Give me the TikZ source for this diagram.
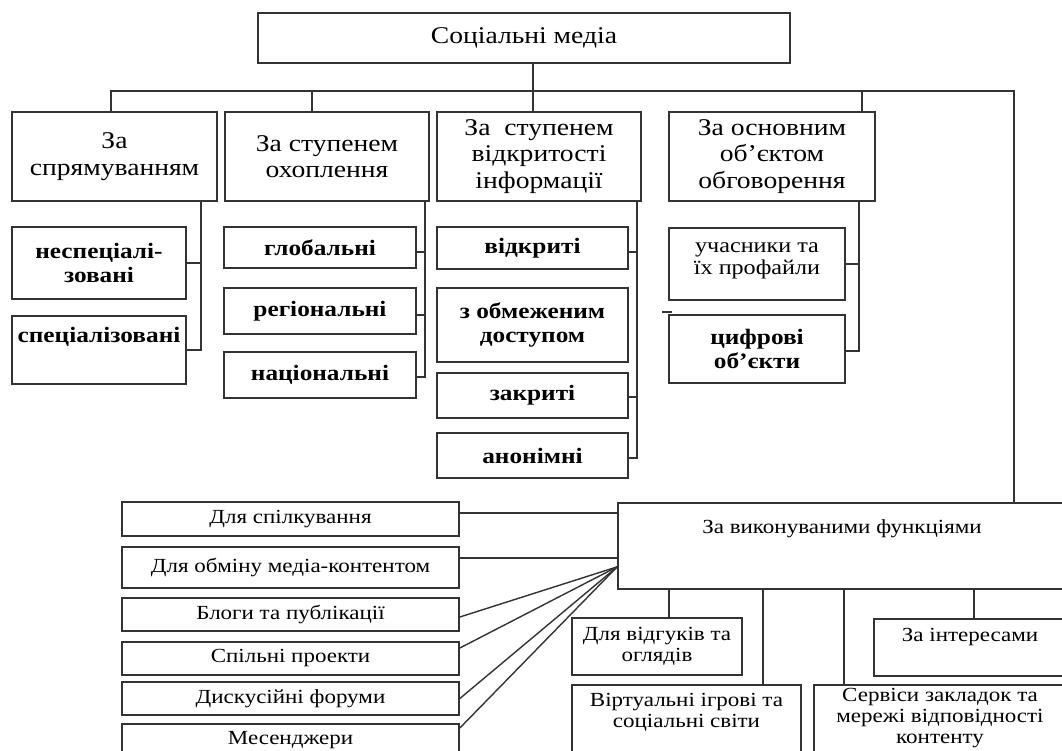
\documentclass[tikz,border=0pt]{standalone}
\usepackage{fontspec}
\setmainfont[FakeStretch=1.15]{Liberation Serif}
\usepackage{tikz}
\usetikzlibrary{positioning}
\tikzset{
  cat/.style={draw=black!80,line width=1.7pt,align=center,inner sep=0pt,
    font=\fontsize{24}{26.5}\selectfont},
  sub/.style={draw=black!80,line width=1.7pt,align=center,inner sep=0pt,
    font=\bfseries\fontsize{22}{24}\selectfont},
  subsmall/.style={draw=black!80,line width=1.7pt,align=center,inner sep=0pt,
    font=\fontsize{21}{22}\selectfont},
  fn/.style={draw=black!80,line width=1.7pt,align=center,inner sep=0pt,
    font=\fontsize{20}{21}\selectfont},
  ln/.style={draw=black!80,line width=1.4pt}
}

\begin{document}
\begin{tikzpicture}[x=1pt,y=-1pt]
  \useasboundingbox (0,0) rectangle (1062,751);
  \clip (0,0) rectangle (1062,751);
  \fill[white] (0,0) rectangle (1062,751);
  % root and first level
  \node[cat,minimum width=532pt,minimum height=50pt] (root) at (524,38) {Соціальні медіа};
  \node[cat,minimum width=205pt,minimum height=89pt] (dir) at (114.5,156.5) {За\\спрямуванням};
  \node[cat,minimum width=204pt,minimum height=89pt] (cov) at (327,156.5) {За ступенем\\охоплення};
  \node[cat,minimum width=204pt,minimum height=89pt] (open) at (539,156.5) {За\ \ ступенем\\відкритості\\інформації};
  \node[cat,minimum width=206pt,minimum height=89pt] (obj) at (772,156.5) {За основним\\об’єктом\\обговорення};
  % by direction
  \node[sub,minimum width=174pt,minimum height=72pt] (nonspec) at (99,263) {неспеціалі-\\зовані};
  \node[sub,minimum width=174pt,text height=27pt,text depth=41pt,anchor=north] (spec) at (99,315) {спеціалізовані};
  % by coverage
  \node[sub,minimum width=192pt,minimum height=41pt] (glob) at (320,247.5) {глобальні};
  \node[sub,minimum width=192pt,minimum height=46pt] (reg) at (320,311) {регіональні};
  \node[sub,minimum width=192pt,minimum height=46pt] (nat) at (320,375) {національні};
  % by openness
  \node[sub,minimum width=191pt,minimum height=42pt] (pub) at (532.5,248) {відкриті};
  \node[sub,minimum width=191pt,minimum height=74pt] (lim) at (532.5,325) {з обмеженим\\доступом};
  \node[sub,minimum width=191pt,minimum height=45pt] (closed) at (532.5,395.5) {закриті};
  \node[sub,minimum width=191pt,minimum height=45pt] (anon) at (532.5,455.5) {анонімні};
  % by object
  \node[subsmall,minimum width=176pt,text height=47pt,text depth=25pt,anchor=north] (users) at (757,227) {учасники та\\їх профайли};
  \node[sub,minimum width=176pt,minimum height=68pt] (digi) at (757,349) {цифрові\\об’єкти};
  % by functions
  \node[fn,minimum width=448pt,text height=31pt,text depth=55pt,anchor=north] (func) at (842,502) {За виконуваними функціями};
  \node[fn,minimum width=337pt,minimum height=34pt] (talk) at (290.5,519) {Для спілкування};
  \node[fn,minimum width=337pt,minimum height=41pt] (media) at (290.5,567.5) {Для обміну медіа-контентом};
  \node[fn,minimum width=337pt,minimum height=33pt] (blog) at (290.5,614.5) {Блоги та публікації};
  \node[fn,minimum width=337pt,minimum height=33pt] (proj) at (290.5,658.5) {Спільні проекти};
  \node[fn,minimum width=337pt,minimum height=33pt] (forum) at (290.5,698.5) {Дискусійні форуми};
  \node[fn,minimum width=337pt,text height=21pt,text depth=30pt,anchor=north] (msg) at (290.5,723) {Месенджери};
  \node[fn,minimum width=170pt,minimum height=57pt] (review) at (657,646.5) {Для відгуків та\\оглядів};
  \node[fn,minimum width=229pt,text height=43pt,text depth=43pt,anchor=north] (game) at (686.5,684) {Віртуальні ігрові та\\соціальні світи};
  \node[fn,minimum width=252pt,text height=59pt,text depth=20pt,anchor=north] (bookm) at (940,684) {Сервіси закладок та\\мережі відповідності\\контенту};
  \node[fn,minimum width=192pt,text height=23pt,text depth=34pt,anchor=north] (inter) at (970,618) {За інтересами};
  % bus from root
  \coordinate (bus) at (533,91);
  \draw[ln] (root.south -| bus) -- (bus);
  \draw[ln] ([xshift=-3.5pt]dir.north) |- (bus);
  \draw[ln] ([xshift=-15pt]cov.north) |- (bus);
  \draw[ln] ([xshift=-6pt]open.north) |- (bus);
  \draw[ln] ([xshift=90pt]obj.north) |- (bus);
  \draw[ln] (bus) -| ([xshift=172pt]func.north);
  % second level trunks
  \coordinate (ta) at ([xshift=-17pt]dir.south east);
  \draw[ln] (ta) |- (spec.east);
  \draw[ln] (nonspec.east) -- (nonspec.east -| ta);
  \coordinate (tb) at ([xshift=-5pt]cov.south east);
  \draw[ln] (tb) |- ([yshift=-2pt]nat.east);
  \draw[ln] ([yshift=-4.5pt]glob.east) -- ([yshift=-4.5pt]glob.east -| tb);
  \draw[ln] ([yshift=-4pt]reg.east) -- ([yshift=-4pt]reg.east -| tb);
  \coordinate (tc) at ([xshift=-5pt]open.south east);
  \draw[ln] (tc) |- ([yshift=-2.5pt]anon.east);
  \draw[ln] ([yshift=-4pt]pub.east) -- ([yshift=-4pt]pub.east -| tc);
  \draw[ln] ([yshift=-1.5pt]closed.east) -- ([yshift=-1.5pt]closed.east -| tc);
  \coordinate (td) at ([xshift=-17pt]obj.south east);
  \draw[ln] (td) |- ([yshift=-2pt]digi.east);
  \draw[ln] (users.east) -- (users.east -| td);
  \draw[ln,line width=2pt] ([xshift=-6pt,yshift=2pt]digi.north west) -- ([xshift=4pt,yshift=2pt]digi.north west);
  % functions
  \draw[ln] ([yshift=6pt]talk.east) -- ([yshift=6pt]talk.east -| func.west);
  \draw[ln] ([yshift=9.5pt]media.east) -- ([yshift=9.5pt]media.east -| func.west);
  \coordinate (fan) at ([yshift=-21pt]func.west);
  \draw[ln] ([yshift=-2.5pt]blog.east) -- (fan);
  \draw[ln] ([yshift=10.5pt]proj.east) -- (fan);
  \draw[ln] (forum.east) -- (fan);
  \draw[ln] ([yshift=-5pt]msg.north east) -- (fan);
  \draw[ln] ([xshift=12pt]review.north) -- ([xshift=12pt]review.north |- func.south);
  \draw[ln] ([xshift=76.5pt]game.north) -- ([xshift=76.5pt]game.north |- func.south);
  \draw[ln] ([xshift=-96pt]bookm.north) -- ([xshift=-96pt]bookm.north |- func.south);
  \draw[ln] ([xshift=4pt]inter.north) -- ([xshift=4pt]inter.north |- func.south);
\end{tikzpicture}
\end{document}
